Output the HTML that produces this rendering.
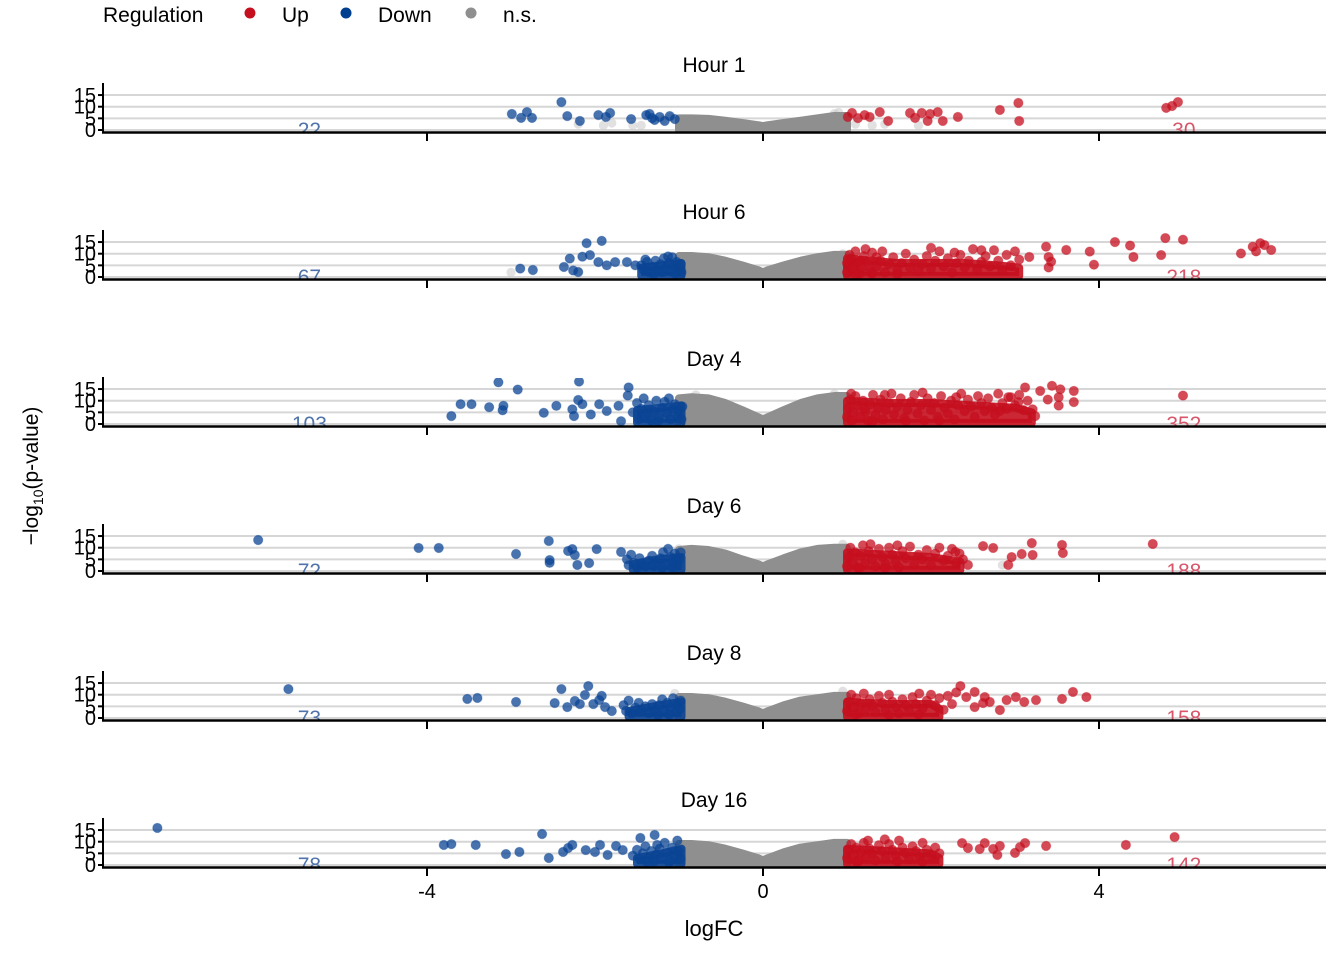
<!DOCTYPE html>
<html><head><meta charset="utf-8"><style>
html,body{margin:0;padding:0;background:#fff;}
svg{display:block;font-family:"Liberation Sans",Arial,sans-serif;}
</style></head><body>
<svg id="chart" width="1344" height="960" xmlns="http://www.w3.org/2000/svg">
<g>
<text x="103" y="22" font-size="21" fill="#000">Regulation</text>
<circle cx="250" cy="13" r="5.5" fill="#c50f1f"/>
<text x="282" y="22" font-size="21">Up</text>
<circle cx="346" cy="13" r="5.5" fill="#003f8f"/>
<text x="378" y="22" font-size="21">Down</text>
<circle cx="471" cy="13" r="5.5" fill="#8f8f8f"/>
<text x="503" y="22" font-size="21">n.s.</text>
</g>
<text transform="translate(38,476) rotate(-90)" text-anchor="middle" font-size="21">−log<tspan font-size="14" dy="5">10</tspan><tspan dy="-5">(p-value)</tspan></text>
<text x="714" y="936" text-anchor="middle" font-size="22">logFC</text>
<g id="panels"></g>
</svg>
<script>
const panelNames = ["Hour 1","Hour 6","Day 4","Day 6","Day 8","Day 16"];
const downCounts = [22,67,103,72,73,78];
const upCounts = [30,218,352,188,158,142];
const xTicks = [-4,0,4];
const yTicks = [0,5,10,15];
const nsX = [-1.0,-0.85,-0.65,-0.45,-0.25,-0.05,0,0.05,0.25,0.45,0.65,0.85,1.0];
const nsTop = [
 [5,5,4.8,4,3,2,1.7,2,3,4,5,6,6],
 [9,9,8.5,7,5,2.8,2,2.8,5,7,8.5,9.5,9.5],
 [11,11.5,11,9,6,2.8,2,2.8,6,9,11,12,12],
 [9,9.5,9,7.5,5,2.8,2,2.8,5.5,8,9.5,10,10],
 [9,9,8.5,7,5,2.8,2,2.8,5.5,7.5,8.5,9.5,9.5],
 [9,9,8.5,7,5,2.8,2,2.8,5.5,7.5,8.5,9.5,9.5]
];
const upCoreX = [[],[1.0,1.3,1.6,2.0,2.4,2.8,3.05],[1.0,1.5,2.0,2.5,3.0,3.2],[1.0,1.5,2.0,2.35],[1.0,1.5,2.0,2.1],[1.0,1.5,2.0,2.1]];
const upCoreTop = [[],[8,7,6,6,6,5,4],[10,9,9,8,7,5],[8,7,6,4],[7,6,6,4],[7,6,5,3]];
const downCoreX = [[],[-1.45,-1.2,-0.97],[-1.5,-1.2,-0.97],[-1.55,-1.25,-0.97],[-1.6,-1.3,-0.97],[-1.5,-1.2,-0.97]];
const downCoreTop = [[],[4,5,6],[6,7,8],[3,5,6],[3,5,7],[3,5,7]];
const nsPoints = [
 [-2.2,2.5,-1.9,2,-1.8,3,-1.55,2,-1.45,2,-1.2,4.5,-1.1,5.5,0.85,7,0.9,7.5,1.1,2.5,1.3,2,1.45,2.5,1.85,2],
 [-3.0,2,-2.2,2.5,-0.9,8.5,0.95,10,1.7,2,1.9,1.5],
 [-0.8,12.5,0.85,13,-1.3,1.5],
 [-1.0,9.5,0.95,11.5,2.85,2.5,1.5,1.5],
 [-1.05,10.5,0.95,11.5,-1.5,1.2],
 [-1.1,2,1.05,9,2.0,1.5]
];
const downPts = [
 [-2.99,6.9,-2.88,5.2,-2.81,7.7,-2.75,5.2,-2.40,12,-2.33,6,-2.18,3.9,-1.96,6.4,-1.82,7.3,-1.87,5.6,-1.57,4.7,-1.39,6.4,-1.35,6.9,-1.29,4.3,-1.23,5.6,-1.17,3.9,-1.11,6,-1.05,4.7,-1.32,5.1],
 [-2.89,3.6,-2.74,3.0,-2.37,4.3,-2.30,7.9,-2.26,2.8,-2.20,2.1,-2.10,14.5,-1.92,15.5,-2.15,8.7,-2.06,9.4,-1.96,6.4,-1.86,5.0,-1.76,6.4,-1.62,6.4,-1.52,5.0,
  -1.45,5,-1.42,3,-1.38,6.5,-1.35,2,-1.32,4.5,-1.28,7,-1.25,3,-1.22,5.5,-1.2,2,-1.18,8,-1.15,4,-1.12,6,-1.1,2.5,-1.08,8.5,-1.05,4.5,-1.03,6.5,-1.0,3,-0.98,5.5,-0.97,2,-1.3,1.2,-1.05,1.5,-1.4,7.5,-1.13,8.8],
 [-3.71,3.4,-3.60,8.5,-3.47,8.5,-3.26,7.2,-3.15,17.9,-3.09,7.8,-3.10,5.9,-2.92,14.8,-2.61,4.8,-2.46,7.8,-2.27,6.3,-2.25,3.4,-2.19,18.2,-2.20,10.3,-2.15,8.5,-2.05,4.1,-1.95,8.5,-1.86,5.6,-1.72,7.8,-1.60,15.7,-1.61,12.2,-1.69,1.2,
  -1.55,5,-1.5,9,-1.48,2,-1.45,6.5,-1.42,11,-1.4,3.5,-1.36,8,-1.33,1.5,-1.3,5.5,-1.27,10,-1.24,3,-1.2,7,-1.17,9.5,-1.14,4.5,-1.1,2,-1.08,6.5,-1.05,8.5,-1.02,3.5,-1.0,5.5,-0.97,2,-0.96,7.5,-1.25,1.2,-1.12,11,-1.38,4.5],
 [-6.01,13.3,-4.10,9.9,-3.86,9.9,-2.94,7.3,-2.55,12.9,-2.54,4.7,-2.54,3.5,-2.32,8.6,-2.24,6.9,-2.27,9.4,-2.21,2.6,-2.07,3.4,-1.98,9.4,-1.69,8.2,
  -1.62,5,-1.6,2.5,-1.57,7,-1.54,3.5,-1.5,1.5,-1.47,5.5,-1.44,3,-1.4,2,-1.36,4.5,-1.32,6.5,-1.3,2,-1.26,3.5,-1.22,5.5,-1.19,8,-1.16,3,-1.13,9.5,-1.1,6,-1.07,4,-1.05,7.5,-1.02,2.5,-1.0,5,-0.98,8,-1.2,1.3,-1.08,1.5],
 [-5.65,12.4,-3.52,8.2,-3.40,8.6,-2.94,6.9,-2.48,6.4,-2.40,12.4,-2.33,4.7,-2.24,7.3,-2.18,6,-2.12,9.9,-2.08,13.7,-2.02,6,-1.95,7.7,-1.88,4.7,-1.80,3.0,-1.92,9.5,
  -1.66,5.5,-1.63,3,-1.6,7.5,-1.56,2,-1.52,4.5,-1.48,6.5,-1.45,3,-1.4,5,-1.36,2,-1.32,6,-1.28,3.5,-1.24,5.5,-1.2,8,-1.17,3,-1.14,6.5,-1.1,4.5,-1.07,8.5,-1.04,2.5,-1.02,6,-0.99,4,-0.98,7.5,-1.25,1.3,-1.12,1.5],
 [-7.21,15.9,-3.80,8.6,-3.71,9.0,-3.42,8.6,-3.06,4.7,-2.90,5.6,-2.63,13.3,-2.55,3.0,-2.38,5.6,-2.32,7.3,-2.27,8.6,-2.11,6.4,-2.0,5.6,-1.94,8.6,-1.85,4.3,-1.75,8.2,-1.67,6.4,-1.46,11.6,-1.29,12.9,-1.26,8.6,
  -1.55,4,-1.5,6.5,-1.47,2.5,-1.43,5,-1.4,8,-1.36,3,-1.33,6,-1.3,1.5,-1.27,4.5,-1.23,7,-1.2,3,-1.17,9.5,-1.14,5.5,-1.1,2,-1.08,7.5,-1.05,4,-1.02,10.5,-1.0,6,-0.98,2.5,-1.12,1.2,-1.38,1.3]
];
const upPts = [
 [1.01,5.6,1.06,7.3,1.13,5.1,1.21,6.4,1.27,5.6,1.39,7.7,1.49,3.9,1.75,7.3,1.81,5.2,1.89,7.3,1.99,6.9,1.96,3.9,2.08,7.7,2.14,3.9,2.32,5.6,2.82,8.6,3.04,11.6,3.05,3.9,4.80,9.5,4.87,10.3,4.94,12],
 [3.17,8.6,3.37,13,3.40,8.6,3.43,6.6,3.40,4.1,3.61,11.6,3.89,10.9,3.94,5.3,4.19,15,4.37,13.5,4.41,8.6,4.74,9.4,4.79,16.7,5.0,16,5.69,10.1,5.83,13,5.92,14.5,5.97,13.7,6.05,11.6,5.87,11,
  1.0,2,1.02,5,1.05,8,1.08,3,1.1,11,1.12,6,1.15,1.5,1.18,4,1.2,9,1.25,6.5,1.28,2.5,1.3,10.5,1.35,4.5,1.4,7,1.45,2,1.5,5.5,1.55,8.5,1.6,3,1.65,6,1.7,10,1.75,4,1.8,7.5,1.85,2.5,1.9,5.5,1.95,9,2.0,3.5,2.05,7,2.1,11,2.15,4.5,2.2,8,2.25,2,2.3,6,2.35,9.5,2.4,4,2.45,7,2.5,12,2.55,3,2.6,6.5,2.65,9,2.7,4.5,2.75,11.5,2.8,7,2.85,3,2.9,9.5,2.95,5,3.0,11,3.05,7.5,1.1,1.2,1.3,1.5,1.6,1.2,1.03,9.5,1.22,12,1.42,11,2.0,12.5,2.28,10.5,2.6,11.5,1.0,6,1.07,4,1.15,7,1.35,8.5],
 [2.82,5.6,2.92,11.5,3.04,9.4,3.12,15.7,3.21,6.3,3.24,3.4,3.30,14.2,3.39,10.5,3.44,16.4,3.52,7.9,3.54,14.9,3.70,14.2,3.70,9.4,3.52,11.5,5.0,12.2,
  1.0,3,1.02,7,1.04,10.5,1.06,1.5,1.08,5,1.1,12,1.13,8,1.16,3,1.19,10,1.22,5.5,1.25,1.5,1.28,8.5,1.31,12.5,1.34,4,1.37,7,1.4,10.5,1.43,2,1.46,6,1.5,9,1.53,13,1.56,4,1.6,7.5,1.64,11,1.68,2.5,1.72,6,1.76,9.5,1.8,12.5,1.84,4.5,1.88,8,1.92,1.5,1.96,11,2.0,6,2.04,9,2.08,3,2.12,12,2.16,7,2.2,4.5,2.24,10,2.28,2,2.32,8,2.36,13,2.4,5.5,2.44,10.5,2.48,7.5,2.52,3,2.56,12,2.6,9,2.64,5.5,2.68,11,2.72,7,2.76,4,2.8,13,2.85,9,2.9,6.5,2.95,11.5,3.0,8,3.05,12.5,3.1,6,3.15,10,1.05,13,1.3,1.2,1.7,1.3,2.1,1.4,1.2,6.5,1.45,12.5,1.9,13.5,2.3,11.5],
 [2.29,8.2,2.34,7.5,2.44,2.6,2.62,10.7,2.74,9.9,2.92,2.6,2.96,6,3.08,7.3,3.20,12,3.21,6.9,3.57,7.7,3.56,11.2,4.64,11.6,
  1.0,2,1.02,6,1.04,10,1.07,4,1.1,8,1.13,1.5,1.16,6.5,1.19,11,1.22,3.5,1.26,8.5,1.3,5,1.34,2,1.38,9.5,1.42,6,1.46,3,1.5,10,1.54,7,1.58,4,1.62,1.5,1.66,8.5,1.7,5.5,1.75,10.5,1.8,3,1.85,7,1.9,5,1.95,9,2.0,2.5,2.05,7.5,2.1,10,2.15,4.5,2.2,6.5,2.25,9.5,2.3,3.5,2.38,5,1.28,11.5,1.6,11,1.15,1.2,1.45,1.3],
 [2.35,13.7,2.42,9,2.52,11.2,2.64,9,2.70,6.9,2.82,3.4,2.90,7.7,3.01,9,3.11,6.9,3.25,7.7,3.56,8.2,3.69,11.2,3.85,9,2.62,6.4,2.52,4.7,
  1.0,3,1.02,7,1.05,10,1.08,4.5,1.11,8.5,1.14,2,1.17,6,1.2,10.5,1.23,4,1.27,8,1.3,5.5,1.34,2.5,1.38,9.5,1.42,6.5,1.46,3.5,1.5,10,1.54,7,1.58,4.5,1.62,2,1.66,8,1.7,5.5,1.74,3,1.78,9,1.82,6,1.86,10.5,1.9,4,1.95,7.5,2.0,10,2.05,5.5,2.1,8.5,2.15,3.5,2.2,9.5,2.25,6,2.3,11,1.1,1.3,1.5,1.3,1.85,1.5],
 [2.37,9.4,2.44,7.3,2.58,6.9,2.64,9.4,2.74,6.9,2.79,4.3,2.82,8.2,3.0,5.2,3.06,7.7,3.12,9.4,3.37,8.2,4.32,8.6,4.90,12,
  1.0,3,1.02,6.5,1.05,9,1.08,4,1.11,7.5,1.14,2,1.17,5.5,1.2,9.5,1.23,3.5,1.27,7,1.3,5,1.34,2,1.38,8.5,1.42,6,1.46,3,1.5,9,1.54,6.5,1.58,4,1.62,10.5,1.66,7.5,1.7,5,1.74,2.5,1.78,8,1.82,6,1.86,3.5,1.9,9.5,1.95,6.5,2.0,4,2.05,7.5,2.1,5,1.25,10.5,1.45,11,1.6,1.5,1.9,1.5,1.12,1.2]
];

const svgNS = "http://www.w3.org/2000/svg";
const root = document.getElementById('panels');
const X0 = 103, X1 = 1326;
const xScale = v => 763 + v * 84;
const PXY = 2.33;
function mk(tag, attrs, parent){ const e=document.createElementNS(svgNS,tag); for(const k in attrs) e.setAttribute(k,attrs[k]); parent.appendChild(e); return e; }
function areaPath(xs, tops, yScale, baseV){
  let d = 'M' + xScale(xs[0]) + ',' + yScale(baseV);
  xs.forEach((x, i) => { d += ' L' + xScale(x) + ',' + yScale(tops[i]); });
  d += ' L' + xScale(xs[xs.length-1]) + ',' + yScale(baseV) + ' Z';
  return d;
}

panelNames.forEach((name, k) => {
  const base = 130 + 147 * k;
  const yScale = v => base - v * PXY;
  const g = mk('g', {}, root);
  
  
  const title = mk('text', {x:714, y:base-58, 'text-anchor':'middle', 'font-size':21}, g);
  title.textContent = name;
  
  
  const cp = mk('clipPath', {id:'clip'+k}, g);
  mk('rect', {x:X0, y:base-46, width:X1-X0, height:48}, cp);
  const plot = mk('g', {'clip-path':'url(#clip'+k+')'}, g);
  
  
  yTicks.forEach(t => {
    const gl = mk('line', {x1:X0, x2:X1, y1:yScale(t), y2:yScale(t), stroke:'#d6d6d6', 'stroke-width':2}, plot);
    
    
  });
  const dl = mk('text', {x:xScale(-5.4), y:yScale(0)+7, 'text-anchor':'middle', 'font-size':21, fill:'#4f73aa'}, plot);
  dl.textContent = downCounts[k];
  
  
  const ul = mk('text', {x:xScale(5.01), y:yScale(0)+7, 'text-anchor':'middle', 'font-size':21, fill:'#d8566b'}, plot);
  ul.textContent = upCounts[k];
  
  
  const ns = nsPoints[k];
  for (let i = 0; i < ns.length; i += 2) {
    const c = mk('circle', {cx:xScale(ns[i]), cy:yScale(ns[i+1]), r:4.6, fill:'#c8c8c8', 'fill-opacity':0.55}, plot);
    
    
  }
  const cloud = mk('path', {d:areaPath(nsX, nsTop[k], yScale, 0), fill:'#8f8f8f', stroke:'#8f8f8f', 'stroke-width':8, 'stroke-linejoin':'round'}, plot);
  
  
  if (downCoreX[k].length) {
    const dc = mk('path', {d:areaPath(downCoreX[k], downCoreTop[k], yScale, 0.5), fill:'#0b4494', 'fill-opacity':0.9, stroke:'#0b4494', 'stroke-opacity':0.9, 'stroke-width':8, 'stroke-linejoin':'round'}, plot);
    
    
  }
  if (upCoreX[k].length) {
    const uc = mk('path', {d:areaPath(upCoreX[k], upCoreTop[k], yScale, 0.5), fill:'#c50f1f', 'fill-opacity':0.9, stroke:'#c50f1f', 'stroke-opacity':0.9, 'stroke-width':8, 'stroke-linejoin':'round'}, plot);
    
    
  }
  const dn = downPts[k];
  for (let i = 0; i < dn.length; i += 2) {
    const c = mk('circle', {cx:xScale(dn[i]), cy:yScale(dn[i+1]), r:4.7, fill:'#0b4494', 'fill-opacity':0.75, stroke:'#0b4494', 'stroke-opacity':0.3, 'stroke-width':1}, plot);
    
    
  }
  const up = upPts[k];
  for (let i = 0; i < up.length; i += 2) {
    const c = mk('circle', {cx:xScale(up[i]), cy:yScale(up[i+1]), r:4.7, fill:'#c50f1f', 'fill-opacity':0.75, stroke:'#c50f1f', 'stroke-opacity':0.3, 'stroke-width':1}, plot);
    
    
  }
  const ya = mk('line', {x1:X0, x2:X0, y1:base-47, y2:base+3.5, stroke:'#000', 'stroke-width':2}, g);
  
  
  yTicks.forEach(t => {
    const tl = mk('line', {x1:X0-5, x2:X0, y1:yScale(t), y2:yScale(t), stroke:'#000', 'stroke-width':2}, g);
    
    
    const tx = mk('text', {x:X0-7, y:yScale(t)+7, 'text-anchor':'end', 'font-size':20}, g);
    tx.textContent = t;
    
    
  });
  const xa = mk('line', {x1:X0-1, x2:X1, y1:base+2.5, y2:base+2.5, stroke:'#000', 'stroke-width':2.5}, g);
  
  
  xTicks.forEach(t => {
    const tk = mk('line', {x1:xScale(t), x2:xScale(t), y1:base+3, y2:base+11, stroke:'#000', 'stroke-width':2}, g);
    
    
    if (k === panelNames.length - 1) {
      const lb = mk('text', {x:xScale(t), y:base+33, 'text-anchor':'middle', 'font-size':20}, g);
      lb.textContent = t < 0 ? '-' + Math.abs(t) : String(t);
      
      
    }
  });
});
</script>
</body></html>
